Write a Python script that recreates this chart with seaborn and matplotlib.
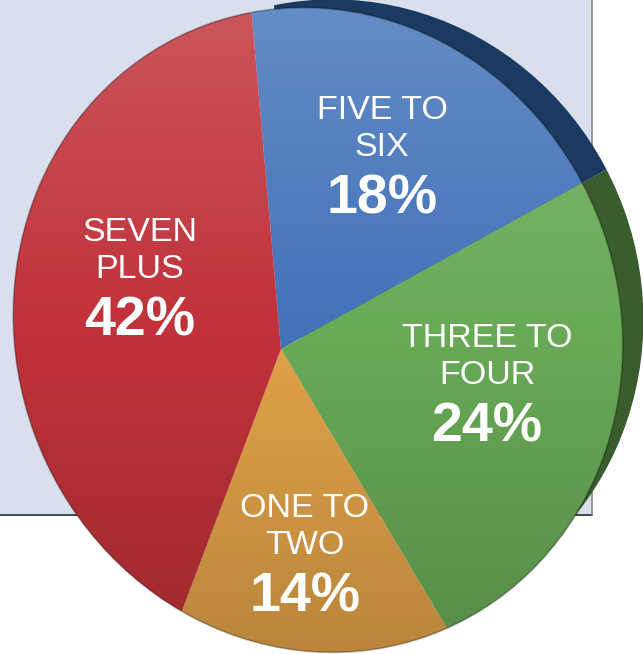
import matplotlib
matplotlib.use("Agg")
import matplotlib.pyplot as plt
import numpy as np
import seaborn as sns
from matplotlib.patches import Ellipse, Rectangle

sns.set_theme(style="white")
plt.rcParams['font.family'] = ['Liberation Sans', 'DejaVu Sans']

# data, clockwise from the top
categories = ['FIVE TO\nSIX', 'THREE TO\nFOUR', 'ONE TO\nTWO', 'SEVEN\nPLUS']
shares = [18, 24, 14, 42]
pct_labels = ['18%', '24%', '14%', '42%']

face_colors = ['#4373b9', '#69aa57', '#e2a349', '#c1323a']
rim_colors = ['#1b3a5f', '#3a5d2d', 'none', 'none']

# label anchors (pixel coords, first line baseline)
label_x = [382, 487, 305, 140]
label_base = [119, 347, 517, 241]

W, H = 643, 654
fig = plt.figure(figsize=(6.43, 6.54), dpi=100)
ax = fig.add_axes([0, 0, 1, 1])

# background panel
ax.add_patch(Rectangle((0, H - 515), 592, 515, fc='#d9dfec', ec='none', zorder=0))
ax.plot([0, 592], [H - 515, H - 515], color='#2a2a2a', lw=1.2, zorder=1)
ax.plot([592, 592], [H - 515, H], color='#8a8a8a', lw=1.2, zorder=1)

# tilted face outline (slight perspective look)
hub = (281, H - 349)
face_c = (318, H - 330)
face = Ellipse(face_c, 604, 650, angle=20, fc='none', ec='none', zorder=3)
back = Ellipse((face_c[0] + 22, face_c[1] + 18), 604, 628, angle=20,
               fc='none', ec='none', zorder=2)
ax.add_patch(face)
ax.add_patch(back)

# dark side of the pie
rim_wedges, _ = ax.pie(shares, colors=rim_colors, startangle=95, counterclock=False,
                       center=(hub[0] + 22, hub[1] + 12), radius=420, frame=True,
                       wedgeprops=dict(linewidth=0))
for w in rim_wedges:
    w.set_clip_on(True)
    w.set_clip_path(back)
    w.set_zorder(2)

# top face
wedges, _ = ax.pie(shares, colors=face_colors, startangle=95, counterclock=False,
                   center=hub, radius=420, frame=True,
                   wedgeprops=dict(linewidth=0))
for w in wedges:
    w.set_clip_on(True)
    w.set_clip_path(face)
    w.set_zorder(3)

# soft light-to-dark shading over the face
n = 256
alpha = np.linspace(0.18, -0.18, n)
grad = np.zeros((n, 1, 4))
grad[:, 0, :3] = np.where(alpha[:, None] > 0, 1.0, 0.0)
grad[:, 0, 3] = np.abs(alpha)
im = ax.imshow(grad, extent=(0, W, 0, H), aspect='auto', zorder=4)
im.set_clip_path(face)

ax.add_patch(Ellipse(face_c, 604, 650, angle=20, fc='none', ec=(0, 0, 0, 0.3),
                     lw=1.2, zorder=5))

for name, pct, x, y in zip(categories, pct_labels, label_x, label_base):
    lines = name.split('\n')
    for i, line in enumerate(lines):
        ax.text(x, H - (y + 37 * i), line, color='white', fontsize=24.5,
                ha='center', va='baseline', zorder=6)
    ax.text(x, H - (y + 37 * (len(lines) - 1) + 57), pct, color='white', fontsize=40,
            fontweight='bold', ha='center', va='baseline', zorder=6)

ax.set_xlim(0, W)
ax.set_ylim(0, H)
ax.set_aspect('auto')
ax.axis('off')

fig.savefig('out.png', dpi=100)
